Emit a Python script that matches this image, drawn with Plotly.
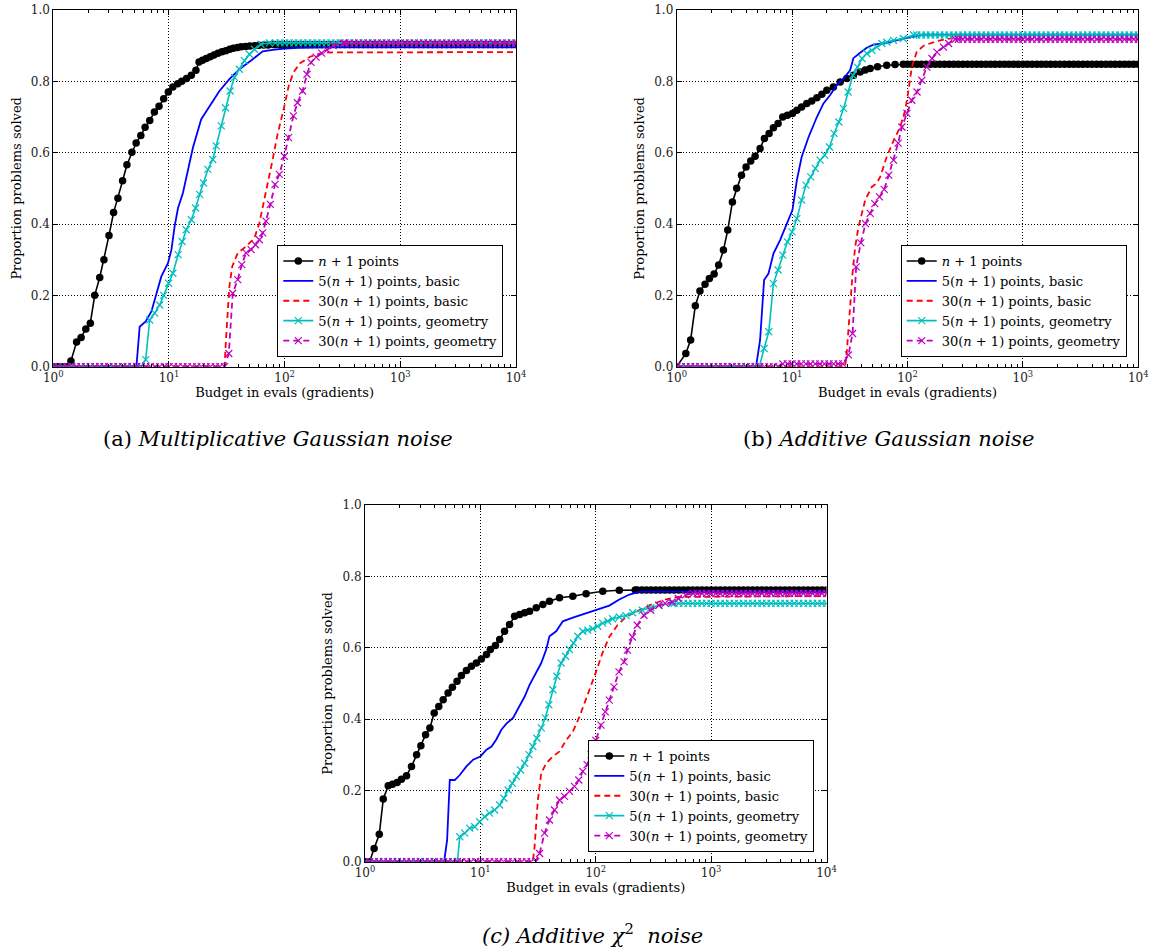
import plotly.graph_objects as go

# ---------------- shared budget grid (for flat stretches of marked curves) ----------------
GRID_MANTISSA = [1.000, 1.096, 1.202, 1.318, 1.445, 1.585, 1.738, 1.905, 2.089, 2.291,
                 2.512, 2.754, 3.020, 3.311, 3.631, 3.981, 4.365, 4.786, 5.248, 5.754,
                 6.310, 6.918, 7.586, 8.318, 9.120]
DECADES = [1, 10, 100, 1000]
GRID = [round(m * d, 4) for d in DECADES for m in GRID_MANTISSA] + [10000]

X_TICKS = [1, 10, 100, 1000, 10000]
X_TICKTEXT = ["10<sup>0</sup>", "10<sup>1</sup>", "10<sup>2</sup>", "10<sup>3</sup>", "10<sup>4</sup>"]
Y_TICKS = [0.0, 0.2, 0.4, 0.6, 0.8, 1.0]

NAMES = ["<i>n</i> + 1 points", "5(<i>n</i> + 1) points, basic", "30(<i>n</i> + 1) points, basic",
         "5(<i>n</i> + 1) points, geometry", "30(<i>n</i> + 1) points, geometry"]

# ---------------- (a) Multiplicative Gaussian noise ----------------
A_N1_X = [1.42, 1.59, 1.74, 1.91, 2.09, 2.28, 2.52, 2.74, 3.03, 3.32, 3.62, 3.97, 4.33, 4.78, 5.20,
          5.71, 6.22, 6.82, 7.48, 8.2, 9.0, 9.87, 10.8, 11.9, 12.9, 14.2, 15.6, 17.1, 18.2, 19.5,
          21, 22.7, 24.5, 26.5, 28.7, 31, 33.5, 36, 39, 42, 46, 50, 55, 60, 66, 72, 80]
A_N1_Y = [0.016, 0.069, 0.082, 0.106, 0.122, 0.2, 0.25, 0.30, 0.368, 0.432, 0.472, 0.521, 0.566, 0.601, 0.627,
          0.648, 0.671, 0.69, 0.714, 0.730, 0.751, 0.77, 0.784, 0.793, 0.8, 0.808, 0.817, 0.831, 0.854, 0.859,
          0.864, 0.869, 0.874, 0.879, 0.883, 0.886, 0.89, 0.893, 0.895, 0.897, 0.898, 0.899, 0.9, 0.901, 0.902, 0.902, 0.903]
A_B5_X = [1, 5.23, 5.58, 6.29, 7.05, 7.78, 8.59, 9.8, 10.5, 11.2, 11.97, 13.2, 14.6, 16.1, 19.0, 22.4,
          27.3, 33.3, 40.6, 53, 64.6, 78.8, 99.3, 130, 263, 10000]
A_B5_Y = [0, 0, 0.112, 0.127, 0.155, 0.206, 0.253, 0.29, 0.328, 0.394, 0.445, 0.487, 0.553, 0.614, 0.694, 0.731,
          0.773, 0.806, 0.834, 0.862, 0.884, 0.888, 0.892, 0.894, 0.895, 0.895]
A_B30_X = [1, 30.2, 31.2, 32.3, 33.3, 35.2, 39.3, 46.4, 54.8, 60.5, 65.5, 71.3, 78.8, 86, 93, 101, 108,
           119, 136, 166, 216, 10000]
A_B30_Y = [0, 0, 0.084, 0.159, 0.225, 0.281, 0.319, 0.337, 0.361, 0.403, 0.455, 0.515, 0.581, 0.645, 0.69, 0.74,
           0.785, 0.825, 0.851, 0.869, 0.881, 0.882]
A_G5_X = [6.29, 6.81, 7.52, 8.31, 9.0, 9.93, 10.8, 12.0, 13.0, 14.1, 15.6, 17.0, 18.4, 19.9, 21.7, 23.9,
          25.6, 28.3, 30.8, 33.8, 36.8, 40.6, 44.9, 49.6, 54.8, 62.5, 73.8]
A_G5_Y = [0.02, 0.131, 0.15, 0.173, 0.2, 0.234, 0.262, 0.314, 0.351, 0.384, 0.412, 0.445, 0.483, 0.515, 0.553, 0.581,
          0.619, 0.675, 0.726, 0.773, 0.811, 0.834, 0.858, 0.876, 0.89, 0.904, 0.908]
A_G30_X = [32.9, 35.6, 39.3, 42.6, 46.4, 51.3, 55.9, 60.5, 64.6, 69, 75.2, 82.6, 90, 99.3, 108, 119, 129,
           143, 156, 169, 187, 209, 232, 263, 320]
A_G30_Y = [0.037, 0.206, 0.244, 0.286, 0.319, 0.328, 0.342, 0.356, 0.375, 0.408, 0.455, 0.511, 0.539, 0.59, 0.642,
           0.703, 0.74, 0.773, 0.82, 0.853, 0.868, 0.879, 0.888, 0.9, 0.907]

# ---------------- (b) Additive Gaussian noise ----------------
B_N1_X = [1.0, 1.2, 1.32, 1.45, 1.59, 1.76, 1.92, 2.11, 2.31, 2.54, 2.77, 3.04, 3.31, 3.64, 3.99, 4.38, 4.78,
          5.28, 5.76, 6.32, 6.89, 7.56, 8.3, 9.11, 10.07, 11.0, 12.1, 13.4, 14.8, 16.4, 18.1, 20.0, 22.8,
          26.1, 29.8, 34.0, 38.9, 43, 47.5, 55, 66, 78, 92]
B_N1_Y = [0, 0.037, 0.075, 0.171, 0.212, 0.231, 0.247, 0.26, 0.285, 0.327, 0.383, 0.462, 0.5, 0.537, 0.56, 0.577,
          0.59, 0.612, 0.64, 0.654, 0.67, 0.682, 0.7, 0.705, 0.71, 0.719, 0.728, 0.738, 0.745, 0.754, 0.764,
          0.775, 0.784, 0.798, 0.808, 0.817, 0.826, 0.832, 0.836, 0.841, 0.845, 0.847, 0.848]
B_B5_X = [1, 4.87, 5.28, 5.72, 6.24, 6.89, 7.87, 8.99, 10.07, 11.0, 12.1, 13.9, 16.4, 18.7, 21.3, 24.4,
          27.9, 31.8, 34, 38.9, 44.4, 50.7, 58, 66.2, 92, 112, 140, 10000]
B_B5_Y = [0, 0, 0.075, 0.243, 0.261, 0.317, 0.355, 0.401, 0.439, 0.523, 0.588, 0.644, 0.7, 0.738, 0.761, 0.789,
          0.808, 0.831, 0.865, 0.88, 0.894, 0.903, 0.906, 0.908, 0.92, 0.926, 0.931, 0.931]
B_B30_X = [1, 28.8, 29.8, 30.8, 31.8, 33.4, 35.2, 37.6, 43, 49, 54, 58, 66, 76, 86.5, 95.5, 102, 109, 120,
           138, 180, 230, 10000]
B_B30_Y = [0, 0, 0.042, 0.112, 0.177, 0.261, 0.336, 0.392, 0.467, 0.504, 0.514, 0.532, 0.588, 0.635, 0.672,
           0.719, 0.775, 0.84, 0.882, 0.9, 0.913, 0.92, 0.92]
B_G5_X = [5.2, 5.72, 6.28, 6.89, 7.56, 8.3, 9.11, 10.0, 11.0, 12.1, 13.2, 14.5, 15.9, 17.5, 19.2, 21.1,
          23.1, 25.4, 27.9, 30.6, 33.6, 36.8, 40.4, 44.4, 49.1, 54.2, 59.9, 66.2, 75.7, 92, 113]
B_G5_Y = [0, 0.051, 0.098, 0.233, 0.271, 0.313, 0.35, 0.378, 0.415, 0.467, 0.509, 0.532, 0.556, 0.579, 0.593,
          0.616, 0.654, 0.686, 0.724, 0.77, 0.817, 0.84, 0.864, 0.878, 0.887, 0.896, 0.906, 0.91, 0.915, 0.92, 0.93]
B_G30_X = [8.318, 9.12, 10.0, 10.96, 12.02, 13.18, 14.45, 15.85, 17.38, 19.05, 20.89, 22.91, 25.12, 27.54,
           30.8, 33.4, 35.9, 39.4, 43.3, 47.5, 52.1, 57.2, 62.8, 68.9, 75.7, 83, 89.4, 98.8, 109, 121, 133,
           147, 163, 180, 205, 227, 259]
B_G30_Y = [0.008, 0.008, 0.008, 0.008, 0.008, 0.008, 0.008, 0.008, 0.008, 0.008, 0.008, 0.008, 0.008, 0.008,
           0.033, 0.093, 0.28, 0.347, 0.401, 0.43, 0.457, 0.476, 0.497, 0.537, 0.579, 0.627, 0.672, 0.71, 0.747,
           0.77, 0.803, 0.84, 0.864, 0.882, 0.896, 0.906, 0.918]

# ---------------- (c) Additive chi^2 noise ----------------
C_N1_X = [1.2, 1.33, 1.44, 1.59, 1.73, 1.9, 2.07, 2.29, 2.53, 2.8, 3.05, 3.35, 3.65, 3.98, 4.36, 4.76, 5.25,
          5.72, 6.28, 6.85, 7.57, 8.36, 9.23, 10.2, 11.3, 12.2, 13.5, 14.7, 16.2, 17.9, 19.8, 21.9, 24.2,
          26.7, 30.5, 34.8, 39.7, 48.5, 63.3, 82.5, 115, 160, 220]
C_N1_Y = [0.037, 0.077, 0.176, 0.213, 0.217, 0.222, 0.231, 0.241, 0.267, 0.3, 0.325, 0.356, 0.375, 0.417,
          0.435, 0.454, 0.473, 0.489, 0.506, 0.522, 0.536, 0.548, 0.557, 0.568, 0.581, 0.595, 0.606, 0.623,
          0.646, 0.665, 0.688, 0.693, 0.698, 0.702, 0.712, 0.721, 0.73, 0.74, 0.744, 0.751, 0.758, 0.761, 0.762]
C_B5_X = [1, 4.85, 5.15, 5.43, 6.0, 6.63, 7.57, 8.65, 10, 11.3, 12.5, 13.7, 15.2, 16.8, 19.2, 21.9, 24.2,
          26.7, 30.5, 33.7, 37.2, 39.7, 45.4, 51.8, 63.3, 77.2, 101, 131, 160, 196, 240, 10000]
C_B5_Y = [0, 0, 0.061, 0.229, 0.229, 0.243, 0.267, 0.286, 0.295, 0.314, 0.323, 0.342, 0.37, 0.387, 0.403,
          0.435, 0.463, 0.496, 0.529, 0.557, 0.595, 0.632, 0.646, 0.674, 0.684, 0.693, 0.707, 0.718, 0.735,
          0.749, 0.757, 0.757]
C_B30_X = [1, 28.5, 29.5, 30.5, 31.5, 33.7, 37.2, 42.5, 48.5, 55.3, 63.3, 72, 82.5, 91, 100, 114, 131, 154,
           182, 237, 309, 400, 500, 10000]
C_B30_Y = [0, 0, 0.042, 0.098, 0.173, 0.248, 0.276, 0.295, 0.309, 0.34, 0.365, 0.405, 0.455, 0.495, 0.53,
           0.584, 0.63, 0.663, 0.686, 0.705, 0.722, 0.735, 0.742, 0.745]
C_G5_X = [6.33, 6.63, 7.32, 8.09, 8.93, 9.86, 10.9, 12.0, 13.3, 14.7, 16.0, 17.4, 18.9, 20.5, 22.3, 24.2,
          26.4, 28.5, 30.9, 33.7, 36.5, 39.2, 42.5, 46.0, 50.1, 54.7, 59.2, 64.1, 69.9, 77.2, 85.3, 94.2, 104,
          115, 127, 140, 160, 183, 209, 253, 300, 352, 459]
C_G5_Y = [0.0, 0.07, 0.08, 0.094, 0.098, 0.112, 0.126, 0.136, 0.145, 0.159, 0.178, 0.201, 0.22, 0.239, 0.257,
          0.276, 0.3, 0.323, 0.346, 0.375, 0.403, 0.44, 0.482, 0.52, 0.557, 0.576, 0.595, 0.613, 0.632, 0.646,
          0.649, 0.653, 0.66, 0.669, 0.674, 0.681, 0.686, 0.69, 0.698, 0.705, 0.712, 0.719, 0.724]
C_G30_X = [32.6, 36, 39.7, 43.9, 48.5, 53.6, 59.2, 65.4, 71.3, 77.2, 84.2, 91.2, 100, 111, 121, 131, 144,
           159, 176, 188, 208, 229, 262, 299, 352, 400, 459, 520, 600, 700]
C_G30_Y = [0.023, 0.08, 0.117, 0.145, 0.173, 0.183, 0.197, 0.211, 0.229, 0.253, 0.272, 0.3, 0.34, 0.383,
           0.42, 0.453, 0.49, 0.532, 0.56, 0.593, 0.63, 0.663, 0.691, 0.705, 0.719, 0.724, 0.728, 0.738, 0.748,
           0.752]

CAPTIONS = ["(a) <i>Multiplicative Gaussian noise</i>", "(b) <i>Additive Gaussian noise</i>",
            "<i>(c) Additive χ</i><sup>2</sup><i>  noise</i>"]

# ---------------- styling ----------------
FONT = "DejaVu Serif"
BLACK, BLUE, RED, CYAN, MAGENTA = "#000000", "#0000ff", "#ff0000", "#00bfbf", "#bf00bf"

W, H = 1155, 951


def px_x(px):
    return px / W


def px_y(py):
    return 1 - py / H


def extend(xs, ys):
    """Pad a marked curve with its flat start (0) and flat end (last value) on the budget grid."""
    pre = [g for g in GRID if g < xs[0] * 0.97]
    post = [g for g in GRID if g > xs[-1] * 1.03]
    return pre + list(xs) + post, [0.0] * len(pre) + list(ys) + [ys[-1]] * len(post)


fig = go.Figure()

panels = [
    ("x", "y", "legend", (A_N1_X, A_N1_Y), (A_B5_X, A_B5_Y), (A_B30_X, A_B30_Y), (A_G5_X, A_G5_Y), (A_G30_X, A_G30_Y)),
    ("x2", "y2", "legend2", (B_N1_X, B_N1_Y), (B_B5_X, B_B5_Y), (B_B30_X, B_B30_Y), (B_G5_X, B_G5_Y), (B_G30_X, B_G30_Y)),
    ("x3", "y3", "legend3", (C_N1_X, C_N1_Y), (C_B5_X, C_B5_Y), (C_B30_X, C_B30_Y), (C_G5_X, C_G5_Y), (C_G30_X, C_G30_Y)),
]

for xa, ya, lg, n1, b5, b30, g5, g30 in panels:
    x, y = extend(*n1)
    fig.add_trace(go.Scatter(x=x, y=y, name=NAMES[0], xaxis=xa, yaxis=ya, legend=lg, mode="lines+markers",
                             line=dict(color=BLACK, width=1.6),
                             marker=dict(symbol="circle", size=7.5, color=BLACK)))
    fig.add_trace(go.Scatter(x=b5[0], y=b5[1], name=NAMES[1], xaxis=xa, yaxis=ya, legend=lg, mode="lines",
                             line=dict(color=BLUE, width=1.8)))
    fig.add_trace(go.Scatter(x=b30[0], y=b30[1], name=NAMES[2], xaxis=xa, yaxis=ya, legend=lg, mode="lines",
                             line=dict(color=RED, width=1.8, dash="6px,4px")))
    x, y = extend(*g5)
    fig.add_trace(go.Scatter(x=x, y=y, name=NAMES[3], xaxis=xa, yaxis=ya, legend=lg, mode="lines+markers",
                             line=dict(color=CYAN, width=1.6),
                             marker=dict(symbol="x-thin", size=7, line=dict(color=CYAN, width=1.2))))
    x, y = extend(*g30)
    fig.add_trace(go.Scatter(x=x, y=y, name=NAMES[4], xaxis=xa, yaxis=ya, legend=lg, mode="lines+markers",
                             line=dict(color=MAGENTA, width=1.8, dash="6px,4px"),
                             marker=dict(symbol="x-thin", size=7, line=dict(color=MAGENTA, width=1.2))))

MINOR_X = [m * d for d in DECADES for m in [2, 3, 4, 5, 6, 7, 8, 9]]

xaxis_common = dict(type="log", range=[0, 4], tickvals=X_TICKS, ticktext=X_TICKTEXT,
                    ticks="inside", ticklen=5, tickwidth=1, tickcolor="black", mirror="allticks",
                    showline=True, linecolor="black", linewidth=1, ticklabeloverflow="allow",
                    showgrid=True, gridcolor="black", gridwidth=0.6, griddash="1px,2px",
                    zeroline=False, tickfont=dict(family=FONT, size=12, color="#222"),
                    title=dict(text="Budget in evals (gradients)", font=dict(family=FONT, size=13, color="black"),
                               standoff=2),
                    minor=dict(tickvals=MINOR_X, ticks="inside", ticklen=2.5, tickcolor="black", showgrid=False))
yaxis_common = dict(range=[0, 1], tickvals=Y_TICKS, tickformat=".1f",
                    ticks="inside", ticklen=5, tickwidth=1, tickcolor="black", mirror="allticks",
                    showline=True, linecolor="black", linewidth=1, ticklabeloverflow="allow",
                    showgrid=True, gridcolor="black", gridwidth=0.6, griddash="1px,2px",
                    zeroline=False, tickfont=dict(family=FONT, size=12, color="#222"),
                    title=dict(text="Proportion problems solved", font=dict(family=FONT, size=13, color="black"),
                               standoff=6))

legend_common = dict(bgcolor="white", bordercolor="black", borderwidth=1, xanchor="left", yanchor="top",
                     font=dict(family=FONT, size=13, color="black"), tracegroupgap=0)

fig.update_layout(
    width=W, height=H, margin=dict(l=0, r=0, t=0, b=0, autoexpand=False),
    paper_bgcolor="white", plot_bgcolor="white", showlegend=True,
    font=dict(family=FONT, color="black"),
    xaxis=dict(xaxis_common, domain=[px_x(53.3), px_x(516)], anchor="y"),
    yaxis=dict(yaxis_common, domain=[px_y(366.7), px_y(10)], anchor="x"),
    xaxis2=dict(xaxis_common, domain=[px_x(676.7), px_x(1138.3)], anchor="y2"),
    yaxis2=dict(yaxis_common, domain=[px_y(366.7), px_y(10)], anchor="x2"),
    xaxis3=dict(xaxis_common, domain=[px_x(365), px_x(826.5)], anchor="y3"),
    yaxis3=dict(yaxis_common, domain=[px_y(861.7), px_y(505)], anchor="x3"),
    legend=dict(legend_common, x=px_x(277.3), y=px_y(245)),
    legend2=dict(legend_common, x=px_x(900.7), y=px_y(245)),
    legend3=dict(legend_common, x=px_x(588.3), y=px_y(740)),
    annotations=[
        dict(text=CAPTIONS[0], x=px_x(278), y=px_y(439), xref="paper", yref="paper", showarrow=False,
             font=dict(family=FONT, size=21, color="black"), xanchor="center", yanchor="middle"),
        dict(text=CAPTIONS[1], x=px_x(888), y=px_y(439), xref="paper", yref="paper", showarrow=False,
             font=dict(family=FONT, size=21, color="black"), xanchor="center", yanchor="middle"),
        dict(text=CAPTIONS[2], x=px_x(592), y=px_y(934), xref="paper", yref="paper", showarrow=False,
             font=dict(family=FONT, size=21, color="black"), xanchor="center", yanchor="middle"),
    ],
)

# the page's default 8px body margin would shift the whole figure; remove it
fig.write_html("out.html", config={"displayModeBar": False},
               post_script="document.body.style.margin='0px';")
